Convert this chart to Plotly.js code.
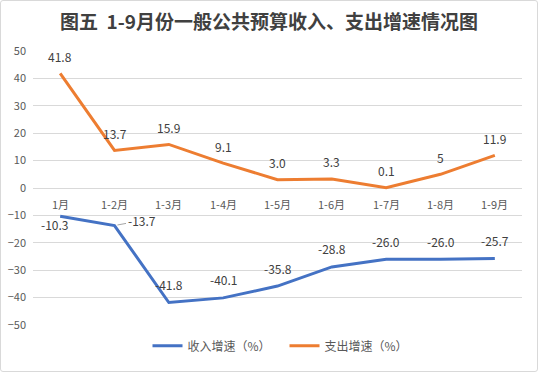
<!DOCTYPE html>
<html><head><meta charset="utf-8">
<script src="https://cdn.plot.ly/plotly-3.0.1.min.js"></script>
<style>
body{margin:0;padding:0;background:#fff;}
#wrap{position:relative;width:538px;height:372px;}
#chart{width:538px;height:372px;}
#border{position:absolute;left:0;top:0;width:536px;height:370px;border:1px solid #d9d9d9;border-radius:3px;pointer-events:none;}
</style></head><body>
<div id="wrap"><div id="chart"></div><div id="border"></div></div>
<script>
const categories = ["1月","1-2月","1-3月","1-4月","1-5月","1-6月","1-7月","1-8月","1-9月"];
const revenueGrowth = [-10.3,-13.7,-41.8,-40.1,-35.8,-28.8,-26.0,-26.0,-25.7];
const revenueLabels = ["-10.3","-13.7","-41.8","-40.1","-35.8","-28.8","-26.0","-26.0","-25.7"];
const spendGrowth = [41.8,13.7,15.9,9.1,3.0,3.3,0.1,5,11.9];
const spendLabels = ["41.8","13.7","15.9","9.1","3.0","3.3","0.1","5","11.9"];
const yTicks = [-50,-40,-30,-20,-10,0,10,20,30,40,50];

const font = "'Noto Sans CJK SC','Microsoft YaHei',sans-serif";
const lblFont = {family: font, size: 12, color: '#404040'};

const annotations = [];
categories.forEach((c,i)=>{
  annotations.push({x:i, y:0, xref:'x', yref:'y', text:c, showarrow:false,
    yanchor:'top', yshift:-6, font:{family:font,size:11,color:'#595959'}});
  annotations.push({x:i, y:spendGrowth[i], xref:'x', yref:'y', text:spendLabels[i],
    showarrow:false, yshift:17, font:lblFont});
  let a = {x:i, y:revenueGrowth[i], xref:'x', yref:'y', text:revenueLabels[i],
    showarrow:false, yshift:18, font:lblFont};
  if(i===0){a.yshift=-8; a.xshift=-6;}
  if(i===1){a.showarrow=true; a.arrowhead=0; a.arrowwidth=1; a.arrowcolor='#a6a6a6';
    a.ax=27; a.ay=-5; a.yshift=0; a.standoff=3;}
  annotations.push(a);
});

const data = [
  {x:categories.map((c,i)=>i), y:revenueGrowth, name:'收入增速（%）', type:'scatter', mode:'lines',
   line:{color:'#4472C4', width:3}},
  {x:categories.map((c,i)=>i), y:spendGrowth, name:'支出增速（%）', type:'scatter', mode:'lines',
   line:{color:'#ED7D31', width:3}}
];

const layout = {
  width:538, height:372,
  margin:{l:33, r:16, t:51, b:45},
  paper_bgcolor:'#fff', plot_bgcolor:'#fff',
  title:{text:'<b>图五  1-9月份一般公共预算收入、支出增速情况图</b>', x:0.5, xanchor:'center',
    y:1-22/372, yanchor:'middle', yref:'container', font:{family:font, size:19, color:'#404040'}},
  xaxis:{range:[-0.5,8.5], showgrid:false, zeroline:false, showticklabels:false, showline:false, fixedrange:true},
  yaxis:{range:[-50,50], tickvals:yTicks, showgrid:true, gridcolor:'#d9d9d9', gridwidth:1,
    zeroline:true, zerolinecolor:'#d9d9d9', zerolinewidth:1, showline:false,
    ticklabelstandoff:6, tickfont:{family:font,size:11,color:'#595959'}},
  showlegend:true,
  legend:{orientation:'h', x:0.5+7/489, xanchor:'center', y:-21/276, yanchor:'middle',
    font:{family:font,size:12,color:'#595959'}, itemwidth:30, entrywidth:92, entrywidthmode:'pixels'},
  annotations:annotations
};
Plotly.newPlot('chart', data, layout, {displayModeBar:false, staticPlot:true});
</script></body></html>
